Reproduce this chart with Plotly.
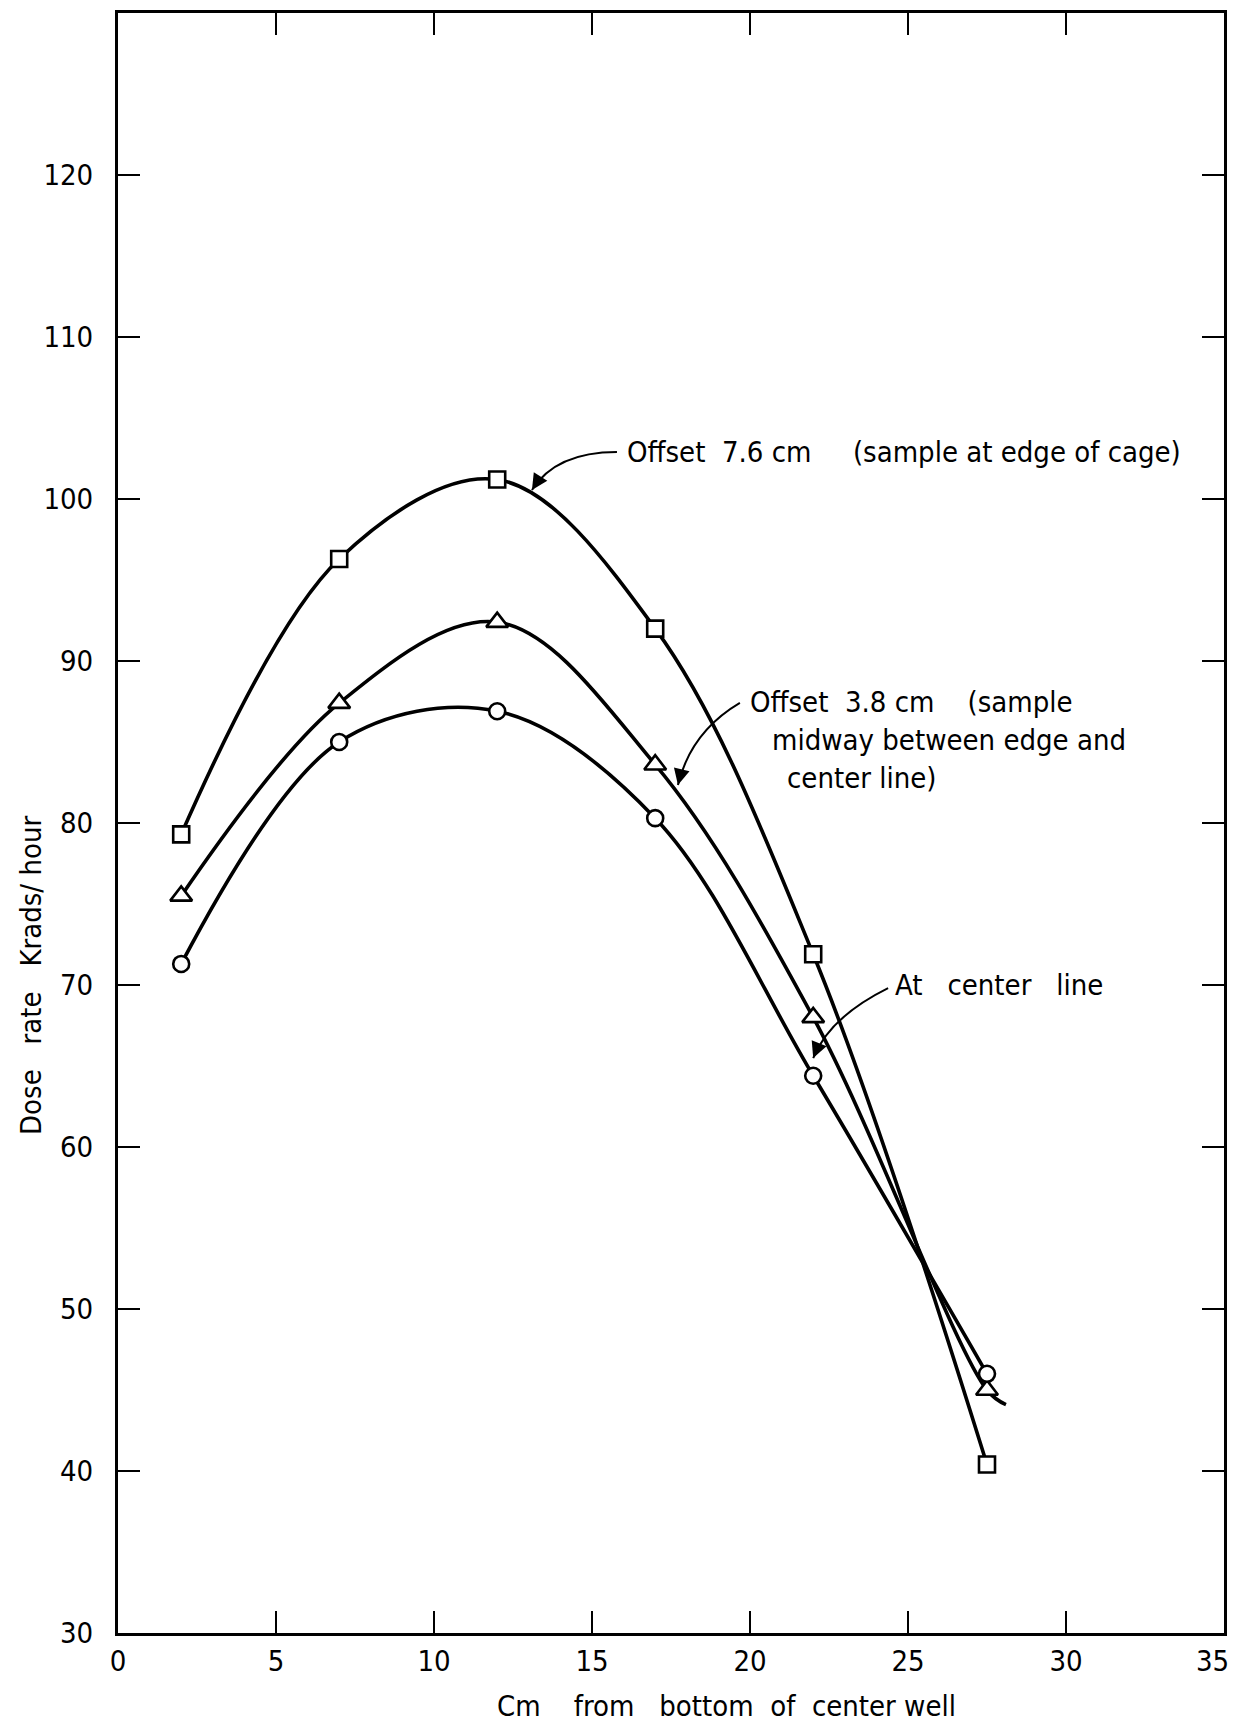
import plotly.graph_objects as go

# Distance from the bottom of the center well (cm)
dist_cm = [2, 7, 12, 17, 22, 27.5]

# Dose rate, Krads/hour
dose_edge = [79.3, 96.3, 101.2, 92.0, 71.9, 40.4]    # offset 7.6 cm (sample at edge of cage)
dose_mid = [75.5, 87.4, 92.4, 83.6, 68.0, 45.0]      # offset 3.8 cm (midway)
dose_center = [71.3, 85.0, 86.9, 80.3, 64.4, 46.0]   # at center line

# the hand-drawn 3.8 cm curve runs slightly past its last point
mid_curve_end_x = 28.1
mid_curve_end_y = 44.1

x_ticks = [0, 5, 10, 15, 20, 25, 30, 35]
y_ticks = [30, 40, 50, 60, 70, 80, 90, 100, 110, 120]

FONT = "DejaVu Sans Condensed, Liberation Sans Narrow, sans-serif"
INK = "black"
NB = "\u00a0"


def gap(n):
    return NB * n


fig = go.Figure()

curve_style = dict(color=INK, width=3.6, shape="spline", smoothing=1.0)

# smooth curves first, markers on top so their white fill masks the line
fig.add_trace(go.Scatter(x=dist_cm, y=dose_edge, mode="lines", line=curve_style,
                         showlegend=False, hoverinfo="skip"))
fig.add_trace(go.Scatter(x=dist_cm + [mid_curve_end_x], y=dose_mid + [mid_curve_end_y],
                         mode="lines", line=curve_style, showlegend=False, hoverinfo="skip"))
fig.add_trace(go.Scatter(x=dist_cm, y=dose_center, mode="lines", line=curve_style,
                         showlegend=False, hoverinfo="skip"))

for ys, sym, size in [(dose_edge, "square", 16),
                      (dose_mid, "triangle-up", 19),
                      (dose_center, "circle", 16)]:
    fig.add_trace(go.Scatter(
        x=dist_cm, y=ys, mode="markers",
        marker=dict(symbol=sym, size=size, color="white",
                    line=dict(color=INK, width=2.6)),
        showlegend=False, cliponaxis=False))

text_font = dict(family=FONT, size=29, color=INK)


def label(x, y, text):
    fig.add_annotation(x=x, y=y, xref="x", yref="y", text=text, showarrow=False,
                       xanchor="left", yanchor="middle", font=text_font)


def curved_arrow(start, ctrl, tip, head_dx, head_dy):
    fig.add_shape(type="path", xref="x", yref="y",
                  path=f"M {start[0]},{start[1]} Q {ctrl[0]},{ctrl[1]} {tip[0]},{tip[1]}",
                  line=dict(color=INK, width=2))
    fig.add_annotation(x=tip[0], y=tip[1], xref="x", yref="y", text="",
                       showarrow=True, arrowhead=2, arrowsize=1.6, arrowwidth=2,
                       arrowcolor=INK, ax=head_dx, ay=head_dy, standoff=0)


# Offset 7.6 cm
label(16.04, 102.9, f"Offset{gap(2)}7.6{gap(1)}cm{gap(5)}(sample at edge of cage)")
curved_arrow((15.79, 102.9), (13.86, 102.9), (13.10, 100.56), 7.5, -11.8)

# Offset 3.8 cm
label(19.94, 87.47, f"Offset{gap(2)}3.8{gap(1)}cm{gap(4)}(sample")
label(20.63, 85.12, "midway between edge and")
label(21.11, 82.78, "center line)")
curved_arrow((19.68, 87.41), (18.13, 85.62), (17.72, 82.35), 3.3, -13.6)

# At center line
label(24.53, 70.0, f"At{gap(3)}center{gap(3)}line")
curved_arrow((24.37, 69.81), (22.52, 68.02), (22.0, 65.49), 5.2, -13.0)

# axis titles (paper coordinates, outside the plotting area)
fig.add_annotation(x=0.341, y=-0.045, xref="paper", yref="paper", showarrow=False,
                   xanchor="left", yanchor="middle", font=text_font,
                   text=f"Cm{gap(4)}from{gap(3)}bottom{gap(2)}of{gap(2)}center{gap(1)}well")
fig.add_annotation(x=-0.078, y=0.406, xref="paper", yref="paper", showarrow=False,
                   xanchor="center", yanchor="middle", textangle=-90, font=text_font,
                   text=f"Dose{gap(3)}rate{gap(3)}Krads/{gap(1)}hour")

axis_common = dict(showline=True, linecolor=INK, linewidth=3, mirror="ticks",
                   ticks="inside", ticklen=22, tickwidth=2, tickcolor=INK,
                   showgrid=False, zeroline=False, automargin=False,
                   tickfont=dict(family=FONT, size=29, color=INK))

# the last x label sits at the page edge, so it is drawn as an annotation
# pulled slightly inward instead of as a regular tick label
x_ticktext = [str(v) for v in x_ticks]
x_ticktext[-1] = ""
fig.add_annotation(x=x_ticks[-1], y=-0.0173, xref="x", yref="paper", showarrow=False,
                   xanchor="center", yanchor="middle", xshift=-12,
                   text=str(x_ticks[-1]), font=text_font)

fig.update_xaxes(range=[0, 35], tickvals=x_ticks, ticktext=x_ticktext, **axis_common)
fig.update_yaxes(range=[30, 130], tickvals=y_ticks, ticktext=[str(v) for v in y_ticks],
                 ticklabelstandoff=16, **axis_common)

fig.update_layout(width=1239, height=1722,
                  margin=dict(l=118, r=15, t=13, b=89),
                  paper_bgcolor="white", plot_bgcolor="white",
                  font=dict(family=FONT, color=INK))

fig.write_html("out.html")
